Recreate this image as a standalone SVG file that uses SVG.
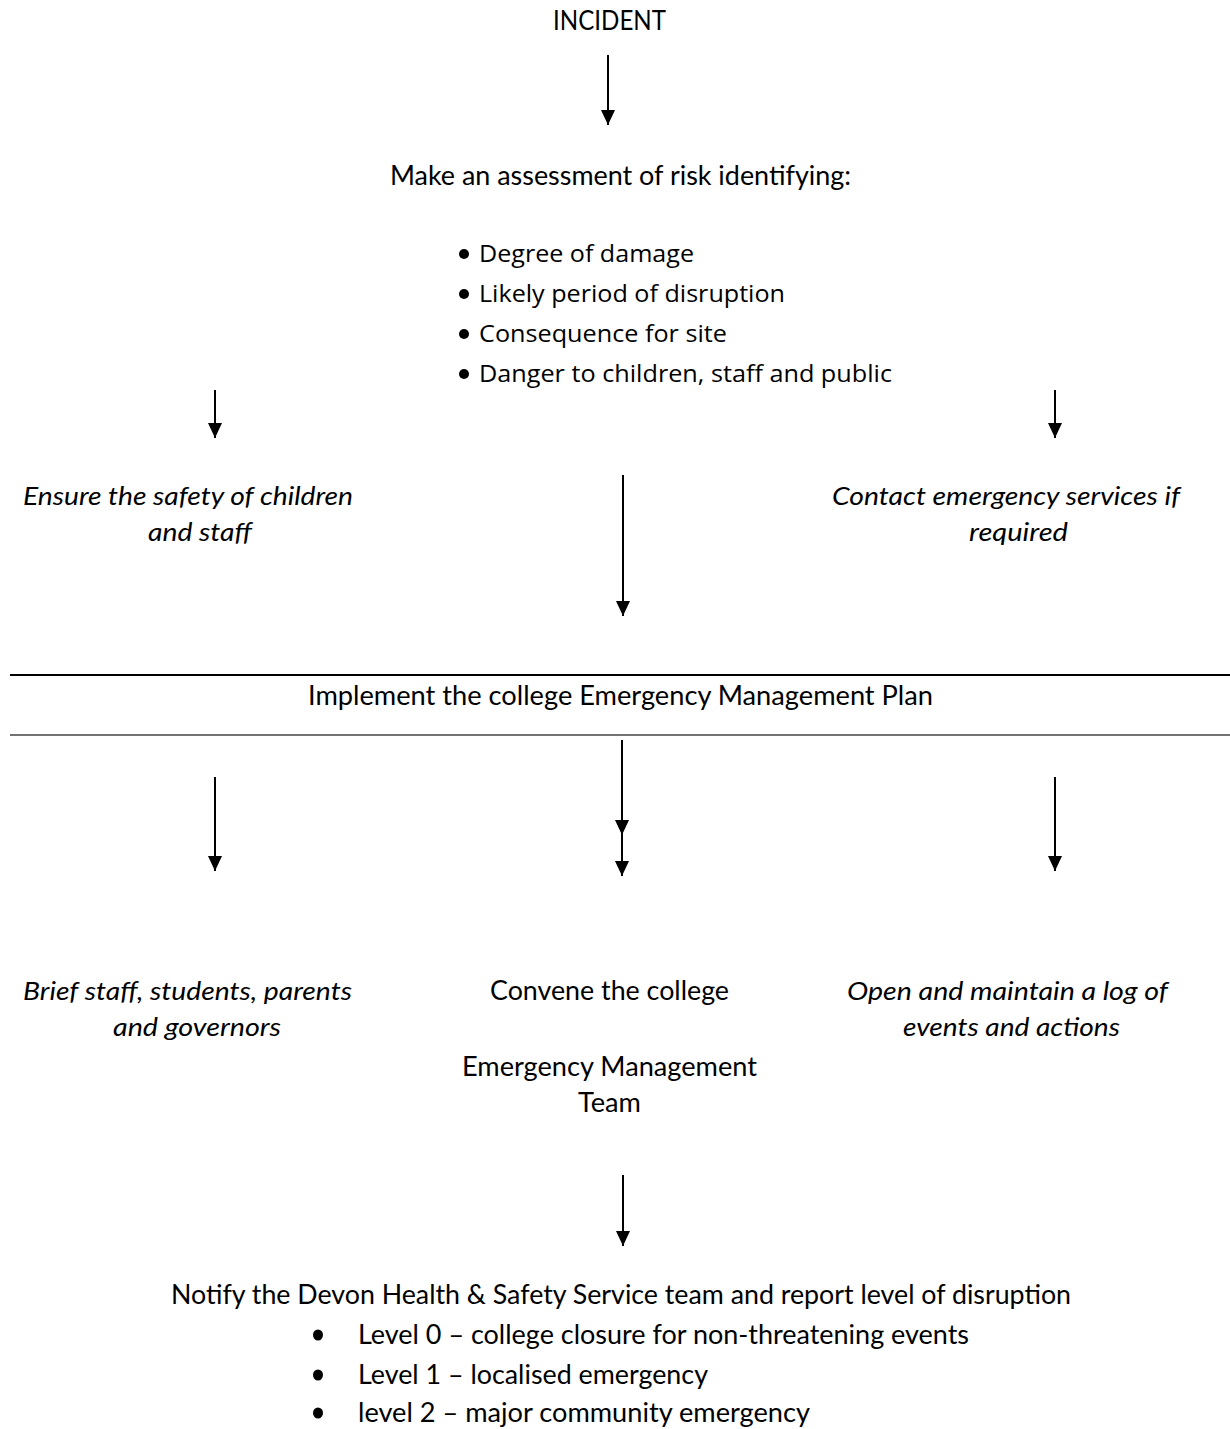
<svg xmlns="http://www.w3.org/2000/svg" width="1230" height="1429" viewBox="0 0 1230 1429">
<style>
text{font-family:Lato,"Open Sans","Liberation Sans",sans-serif;font-size:26px;fill:#000}
.it{font-style:italic}
.bl{font-family:"Open Sans","Noto Sans",sans-serif;font-size:23px}
.ln{stroke:#000;stroke-width:2;fill:none}
</style>
<defs>
<marker id="ah" markerUnits="userSpaceOnUse" markerWidth="15" markerHeight="14" viewBox="0 0 15 14" refX="15" refY="7" orient="auto">
<polygon points="0,0 15,7 0,14" fill="#000"/>
</marker>
</defs>
<rect width="1230" height="1429" fill="#fff"/>
<g id="connectors">
<line class="ln" x1="608" y1="55" x2="608" y2="125" marker-end="url(#ah)"/>
<line class="ln" x1="215" y1="390" x2="215" y2="438" marker-end="url(#ah)"/>
<line class="ln" x1="1055" y1="390" x2="1055" y2="438" marker-end="url(#ah)"/>
<line class="ln" x1="623" y1="475" x2="623" y2="616" marker-end="url(#ah)"/>
<line x1="10" y1="675" x2="1230" y2="675" stroke="#000" stroke-width="2"/>
<line x1="10" y1="735" x2="1230" y2="735" stroke="#444" stroke-width="1.5"/>
<line class="ln" x1="215" y1="777" x2="215" y2="871" marker-end="url(#ah)"/>
<line class="ln" x1="622" y1="740" x2="622" y2="835" marker-end="url(#ah)"/>
<line class="ln" x1="622" y1="835" x2="622" y2="876" marker-end="url(#ah)"/>
<line class="ln" x1="1055" y1="777" x2="1055" y2="871" marker-end="url(#ah)"/>
<line class="ln" x1="623" y1="1175" x2="623" y2="1246" marker-end="url(#ah)"/>
</g>
<g id="incident"><text x="553" y="30" textLength="113" lengthAdjust="spacingAndGlyphs">INCIDENT</text></g>
<g id="assess">
<text x="390" y="185" textLength="461" lengthAdjust="spacingAndGlyphs">Make an assessment of risk identifying:</text>
<circle cx="464" cy="254" r="5"/>
<text class="bl" x="479" y="262" textLength="215" lengthAdjust="spacingAndGlyphs">Degree of damage</text>
<circle cx="464" cy="294" r="5"/>
<text class="bl" x="479" y="302" textLength="306" lengthAdjust="spacingAndGlyphs">Likely period of disruption</text>
<circle cx="464" cy="334" r="5"/>
<text class="bl" x="479" y="342" textLength="248" lengthAdjust="spacingAndGlyphs">Consequence for site</text>
<circle cx="464" cy="374" r="5"/>
<text class="bl" x="479" y="382" textLength="413" lengthAdjust="spacingAndGlyphs">Danger to children, staff and public</text>
</g>
<g id="ensure">
<text class="it" x="23" y="505" textLength="330" lengthAdjust="spacingAndGlyphs">Ensure the safety of children</text>
<text class="it" x="148" y="541" textLength="104" lengthAdjust="spacingAndGlyphs">and staff</text>
</g>
<g id="contact">
<text class="it" x="832" y="505" textLength="348" lengthAdjust="spacingAndGlyphs">Contact emergency services if</text>
<text class="it" x="969" y="541" textLength="99" lengthAdjust="spacingAndGlyphs">required</text>
</g>
<g id="implement"><text x="308" y="705" textLength="625" lengthAdjust="spacingAndGlyphs">Implement the college Emergency Management Plan</text></g>
<g id="brief">
<text class="it" x="23" y="1000" textLength="329" lengthAdjust="spacingAndGlyphs">Brief staff, students, parents</text>
<text class="it" x="113" y="1036" textLength="168" lengthAdjust="spacingAndGlyphs">and governors</text>
</g>
<g id="convene">
<text x="490" y="1000" textLength="239" lengthAdjust="spacingAndGlyphs">Convene the college</text>
<text x="462" y="1076" textLength="295" lengthAdjust="spacingAndGlyphs">Emergency Management</text>
<text x="578" y="1112" textLength="63" lengthAdjust="spacingAndGlyphs">Team</text>
</g>
<g id="log">
<text class="it" x="847" y="1000" textLength="321" lengthAdjust="spacingAndGlyphs">Open and maintain a log of</text>
<text class="it" x="903" y="1036" textLength="217" lengthAdjust="spacingAndGlyphs">events and actions</text>
</g>
<g id="notify">
<text x="171" y="1304" textLength="900" lengthAdjust="spacingAndGlyphs">Notify the Devon Health &amp; Safety Service team and report level of disruption</text>
<ellipse cx="318" cy="1335" rx="5" ry="5.5"/>
<text x="358" y="1344" textLength="611" lengthAdjust="spacingAndGlyphs">Level 0 – college closure for non-threatening events</text>
<ellipse cx="318" cy="1375" rx="5" ry="5.5"/>
<text x="358" y="1384" textLength="350" lengthAdjust="spacingAndGlyphs">Level 1 – localised emergency</text>
<ellipse cx="318" cy="1413" rx="5" ry="5.5"/>
<text x="358" y="1422" textLength="452" lengthAdjust="spacingAndGlyphs">level 2 – major community emergency</text>
</g>
</svg>
